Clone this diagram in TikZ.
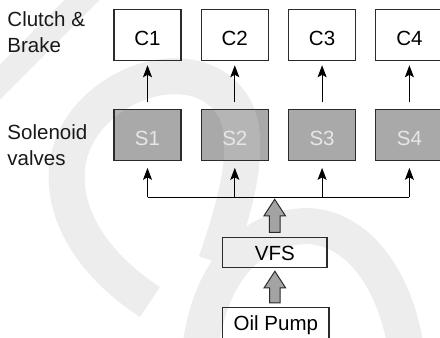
\documentclass[tikz,border=0pt]{standalone}
\usepackage{fontspec}
\setmainfont{Liberation Sans}
\usetikzlibrary{arrows.meta,calc}

\pgfdeclarelayer{boxfill}
\pgfdeclarelayer{wmark}
\pgfsetlayers{boxfill,wmark,main}

\definecolor{linecol}{HTML}{2B2B2B}
\definecolor{valvefill}{HTML}{A9A9A9}
\definecolor{valvetext}{HTML}{E6E6E6}
\definecolor{pipefill}{HTML}{A3A3A3}
\definecolor{markcol}{HTML}{CCCCCC}

% block arrow pointing up: #1 = foot of the shaft, #2 = tip
\newcommand\feedarrow[2]{%
  \draw[fatarrow] let \p1=(#1), \p2=(#2) in
    (\x2,\y2) -- (\x2+10.7pt,\y2-16.5pt) -- (\x2+5.3pt,\y2-16.5pt)
    -- (\x2+5.3pt,\y1) -- (\x2-5.3pt,\y1) -- (\x2-5.3pt,\y2-16.5pt)
    -- (\x2-10.7pt,\y2-16.5pt) -- cycle;}

\begin{document}
\begin{tikzpicture}[x=1pt,y=-1pt,
  every node/.style={inner sep=0pt, font=\fontsize{20.5}{24}\selectfont},
  unitbox/.style={draw=linecol, line width=1.1pt, minimum width=67pt,
    minimum height=51pt, text height=21pt, text depth=0pt},
  valvebox/.style={unitbox, text=valvetext},
  sidelabel/.style={anchor=base west, text=black!90},
  flow/.style={draw=black, line width=1pt,
    -{Stealth[length=12pt,width=9pt,inset=2.5pt]}},
  busline/.style={draw=black, line width=1pt},
  fatarrow/.style={draw=linecol, line width=1pt, fill=pipefill, line join=miter},
  markstroke/.style={draw=markcol, opacity=0.36, line cap=butt}]

\useasboundingbox (0,0) rectangle (440,338);

% side captions
\node[sidelabel] (lclutch) at (7.3,26.7) {Clutch \&};
\node[sidelabel] (lbrake)  at (7.3,52.3) {Brake};
\node[sidelabel] (lsol)    at (7.3,139)  {Solenoid};
\node[sidelabel] (lvalve)  at (7.3,165)  {valves};

% clutches and brakes
\node[unitbox] (c1) at (147.5,34.9) {C1};
\node[unitbox] (c2) at (234.8,34.9) {C2};
\node[unitbox] (c3) at (322.1,34.9) {C3};
\node[unitbox] (c4) at (409.4,34.9) {C4};

% solenoid valves
\node[valvebox] (s1) at (147.5,134.8) {S1};
\node[valvebox] (s2) at (234.8,134.8) {S2};
\node[valvebox] (s3) at (322.1,134.8) {S3};
\node[valvebox] (s4) at (409.4,134.8) {S4};

\begin{pgfonlayer}{boxfill}
  \foreach \s in {s1,s2,s3,s4}
    \fill[valvefill] (\s.south west) rectangle (\s.north east);
\end{pgfonlayer}

% supply chain
\node[draw=linecol, line width=1.1pt, minimum width=104.3pt, minimum height=30.4pt,
      text height=15pt, text depth=0pt] (vfs) at (274.85,252.5) {VFS};
\node[draw=linecol, line width=1.1pt, minimum width=106.3pt, minimum height=33pt,
      text height=14pt, text depth=0pt] (pump) at (275.85,323.8) {Oil Pump};

% distribution bus
\coordinate (hub) at (274.7,197.3);
\draw[busline] (s1.south |- hub) -- (s4.south |- hub);

\foreach \k in {1,2,3,4} {
  \draw[flow, shorten <=6.3pt, shorten >=4.3pt] (s\k.north) -- (c\k.south);
  \draw[flow, shorten >=7pt] (s\k.south |- hub) -- (s\k.south);
}

\feedarrow{$(vfs.north)+(0,-4.3)$}{$(hub)+(0,2)$}
\feedarrow{$(pump.north)+(0,-4)$}{$(vfs.south)+(0,3)$}

% faint background mark
\begin{pgfonlayer}{wmark}
  \draw[markstroke, line width=25pt] (97,-15) -- (-15,97);
  \draw[markstroke, line width=36pt]
    (150,302) .. controls (62,245) and (42,160) .. (98,108)
              .. controls (150,60) and (230,66) .. (241,128)
              .. controls (247,170) and (230,220) .. (216,262)
    (200,350) .. controls (212,255) and (265,226) .. (308,226)
              .. controls (358,228) and (396,280) .. (406,350);
\end{pgfonlayer}
\end{tikzpicture}
\end{document}
